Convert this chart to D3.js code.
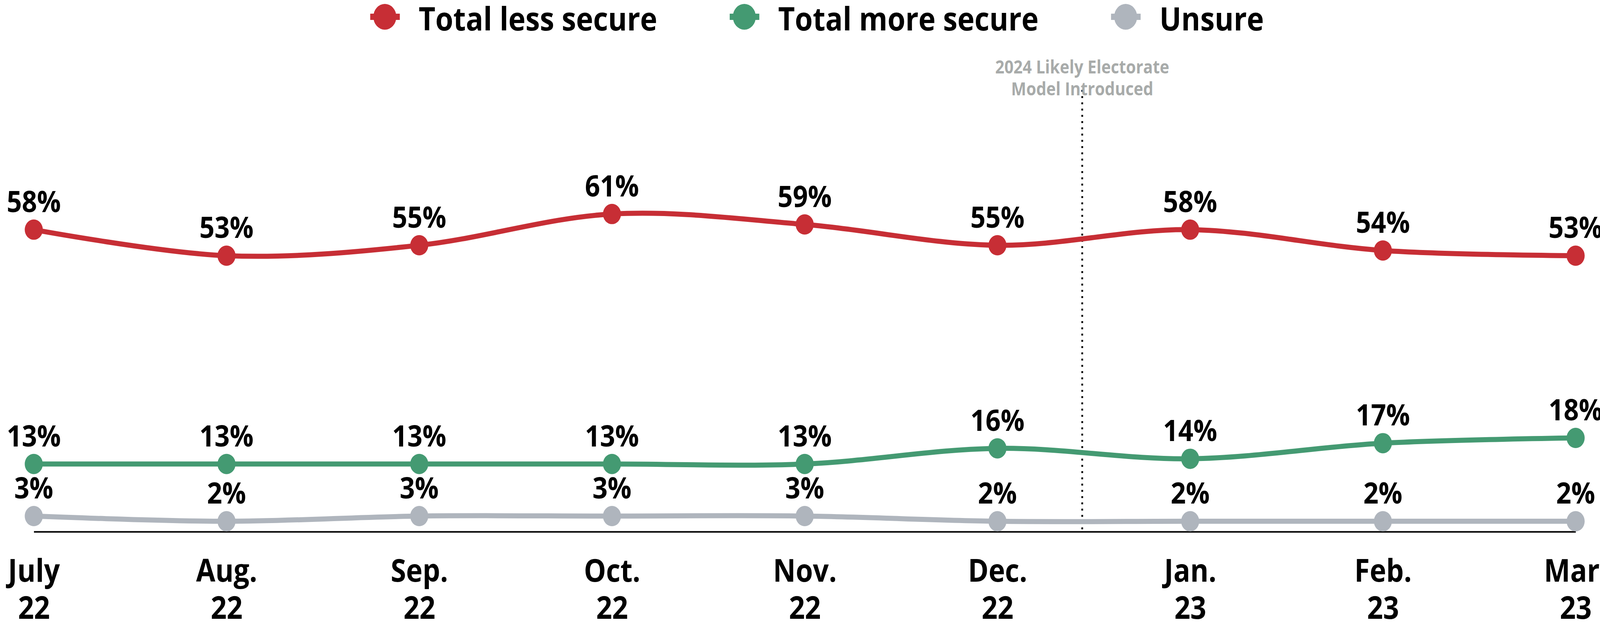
<!DOCTYPE html>
<html>
<head>
<meta charset="utf-8">
<script src="https://cdn.jsdelivr.net/npm/d3@7"></script>
<style>
  html, body { margin: 0; padding: 0; background: #fff; overflow: hidden; }
  svg { display: block; }
  text { font-family: "Open Sans", "Noto Sans", sans-serif; font-weight: 700; }
</style>
</head>
<body>
<div id="chart"></div>
<script>
// data
var months = ["July", "Aug.", "Sep.", "Oct.", "Nov.", "Dec.", "Jan.", "Feb.", "Mar."];
var years = ["22", "22", "22", "22", "22", "22", "23", "23", "23"];
var lessSecure = [58, 53, 55, 61, 59, 55, 58, 54, 53];
var moreSecure = [13, 13, 13, 13, 13, 16, 14, 17, 18];
var unsure = [3, 2, 3, 3, 3, 2, 2, 2, 2];
var seriesNames = ["Total less secure", "Total more secure", "Unsure"];
var seriesColors = ["#c72e35", "#449a72", "#afb5bd"];
// likely electorate model switch, between Dec. and Jan.
var modelChangeAt = 5.44;
var noteLines = ["2024 Likely Electorate", "Model Introduced"];

// drawing size; the svg is stretched to fill the window
var width = 4594, height = 1605;

var x = d3.scaleLinear().domain([0, months.length - 1]).range([97, 4524]);
var y = d3.scaleLinear().domain([0, 100]).range([1361, 28]);

var color = d3.scaleOrdinal().domain(seriesNames).range(seriesColors);

var series = [
  { name: seriesNames[0], values: lessSecure },
  { name: seriesNames[1], values: moreSecure },
  { name: seriesNames[2], values: unsure }
];

var svg = d3.select("#chart")
  .append("svg")
  .attr("viewBox", "0 0 " + width + " " + height)
  .attr("preserveAspectRatio", "none")
  .style("width", "100vw")
  .style("height", "100vh");

// x axis: baseline and two-line month labels
var xAxis = svg.append("g")
  .attr("transform", "translate(0," + y(0) + ")")
  .call(d3.axisBottom(x)
    .tickValues(d3.range(months.length))
    .tickSize(0)
    .tickSizeOuter(0)
    .tickFormat(""));

xAxis.select(".domain").attr("stroke", "#000").attr("stroke-width", 4);

xAxis.selectAll(".tick text").remove();
xAxis.selectAll(".tick")
  .append("text")
  .attr("y", 128)
  .attr("text-anchor", "middle")
  .attr("fill", "#000")
  .style("font-size", "80px")
  .text(function(d) { return months[d]; });
xAxis.selectAll(".tick")
  .append("text")
  .attr("y", 223)
  .attr("text-anchor", "middle")
  .attr("fill", "#000")
  .style("font-size", "80px")
  .text(function(d) { return years[d]; });

// dotted marker for model change
svg.append("line")
  .attr("x1", x(modelChangeAt))
  .attr("x2", x(modelChangeAt))
  .attr("y1", 230)
  .attr("y2", y(0))
  .attr("stroke", "#000")
  .attr("stroke-width", 5)
  .attr("stroke-dasharray", "5,11");

svg.append("text")
  .attr("text-anchor", "middle")
  .attr("fill", "#a8abaa")
  .style("font-size", "46px")
  .selectAll("tspan")
  .data(noteLines)
  .enter()
  .append("tspan")
  .attr("x", x(modelChangeAt))
  .attr("y", function(d, i) { return 188 + i * 56; })
  .text(function(d) { return d; });

// lines
var line = d3.line()
  .x(function(d, i) { return x(i); })
  .y(function(d) { return y(d); })
  .curve(d3.curveCardinal);

var groups = svg.selectAll(".series")
  .data(series)
  .enter()
  .append("g")
  .attr("class", "series");

groups.append("path")
  .attr("d", function(d) { return line(d.values); })
  .attr("fill", "none")
  .attr("stroke", function(d) { return color(d.name); })
  .attr("stroke-width", 13);

groups.selectAll("circle")
  .data(function(d) { return d.values.map(function(v) { return { v: v, name: d.name }; }); })
  .enter()
  .append("circle")
  .attr("cx", function(d, i) { return x(i); })
  .attr("cy", function(d) { return y(d.v); })
  .attr("r", 26)
  .attr("fill", function(d) { return color(d.name); });

groups.selectAll(".label")
  .data(function(d) { return d.values; })
  .enter()
  .append("text")
  .attr("class", "label")
  .attr("x", function(d, i) { return x(i); })
  .attr("y", function(d) { return y(d) - 45; })
  .attr("text-anchor", "middle")
  .attr("fill", "#000")
  .style("font-size", "76px")
  .text(function(d) { return d + "%"; });

// legend
var legend = svg.append("g").attr("class", "legend");
var lx = 1105;
seriesNames.forEach(function(name) {
  var item = legend.append("g").attr("transform", "translate(" + lx + ",43)");
  item.append("rect")
    .attr("x", -42).attr("y", -8)
    .attr("width", 85).attr("height", 16)
    .attr("fill", color(name));
  item.append("circle")
    .attr("r", 33)
    .attr("fill", color(name));
  var t = item.append("text")
    .attr("x", 97)
    .attr("y", 35)
    .attr("fill", "#000")
    .style("font-size", "83px")
    .text(name);
  lx += 97 + t.node().getComputedTextLength() + 250;
});
</script>
</body>
</html>
